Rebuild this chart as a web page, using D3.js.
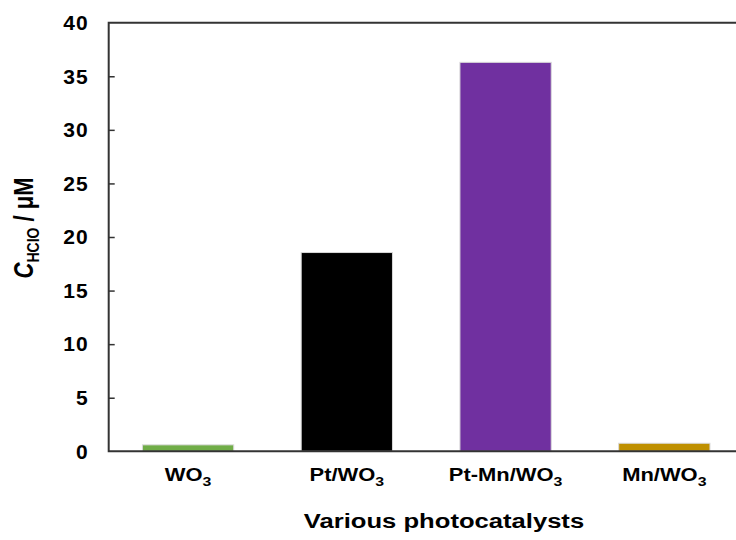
<!DOCTYPE html>
<html>
<head>
<meta charset="utf-8">
<script src="https://cdn.jsdelivr.net/npm/d3@7"></script>
<style>
  body { margin: 0; background: #fff; }
  svg { font-family: "Liberation Sans", Arial, sans-serif; }
</style>
</head>
<body>
<div id="chart"></div>
<script>
// data
const categories = ["WO3", "Pt/WO3", "Pt-Mn/WO3", "Mn/WO3"];
const labelParts = [["WO", "3"], ["Pt/WO", "3"], ["Pt-Mn/WO", "3"], ["Mn/WO", "3"]];
const values = [0.6, 18.55, 36.3, 0.75];
const colors = ["#70ad47", "#000000", "#7030a0", "#bf9000"];
const yTicks = [0, 5, 10, 15, 20, 25, 30, 35, 40];

const width = 736, height = 540;
const x0 = 108.7, x1 = 743.7, yTop = 22.7, yBot = 451.3;
const stretch = 1.22; // the source figure is a bit wider than tall

const svg = d3.select("#chart").append("svg")
  .attr("width", width)
  .attr("height", height);

const x = d3.scaleBand().domain(categories).range([x0, x1]).paddingInner(0.425).paddingOuter(0.2125);
const y = d3.scaleLinear().domain([0, 40]).range([yBot, yTop]);

// bars
svg.selectAll(".bar")
  .data(categories)
  .enter()
  .append("rect")
  .attr("class", "bar")
  .attr("x", d => x(d))
  .attr("width", x.bandwidth())
  .attr("y", (d, i) => y(values[i]))
  .attr("height", (d, i) => y(0) - y(values[i]))
  .attr("fill", (d, i) => colors[i])
  .attr("stroke", "#d9d9d9")
  .attr("stroke-width", 1);

// frame (top + left + bottom), right edge runs off the page
svg.append("path")
  .attr("d", `M${x1},${yTop}H${x0}V${yBot}H${x1}`)
  .attr("fill", "none")
  .attr("stroke", "#333")
  .attr("stroke-width", 2);

// y axis, ticks pointing inward
const yAxis = d3.axisLeft(y).tickValues(yTicks).tickSizeInner(-6).tickSizeOuter(0).tickPadding(20);
const gy = svg.append("g").attr("transform", `translate(${x0},0)`).call(yAxis);
gy.select(".domain").remove();
gy.selectAll(".tick line").attr("stroke", "#333").attr("stroke-width", 1.5)
  .filter(d => d === 0 || d === 40).remove();
gy.selectAll(".tick text")
  .attr("font-size", 21)
  .attr("font-weight", "bold")
  .attr("fill", "#000")
  .attr("letter-spacing", 1)
  .attr("font-family", "Liberation Sans, Arial, sans-serif");

// x category labels with subscripts
const xl = svg.selectAll(".xlab")
  .data(categories)
  .enter()
  .append("text")
  .attr("class", "xlab")
  .attr("transform", d => `translate(${x(d) + x.bandwidth() / 2},481) scale(${stretch},1)`)
  .attr("text-anchor", "middle")
  .attr("font-size", 18)
  .attr("font-weight", "bold");
xl.append("tspan").text((d, i) => labelParts[i][0]);
xl.append("tspan").attr("dy", 5).attr("font-size", 13).text((d, i) => labelParts[i][1]);

// axis titles
svg.append("text")
  .attr("transform", `translate(444,528) scale(${stretch},1)`)
  .attr("text-anchor", "middle")
  .attr("font-size", 21)
  .attr("font-weight", "bold")
  .text("Various photocatalysts");

const yt = svg.append("text")
  .attr("transform", `translate(33,228) scale(${stretch},1) rotate(-90)`)
  .attr("text-anchor", "middle")
  .attr("font-size", 22)
  .attr("font-weight", "bold");
yt.append("tspan").attr("font-style", "italic").text("C");
yt.append("tspan").attr("dy", 5).attr("font-size", 14).text("HClO");
yt.append("tspan").attr("dy", -5).text(" / μM");
</script>
</body>
</html>
